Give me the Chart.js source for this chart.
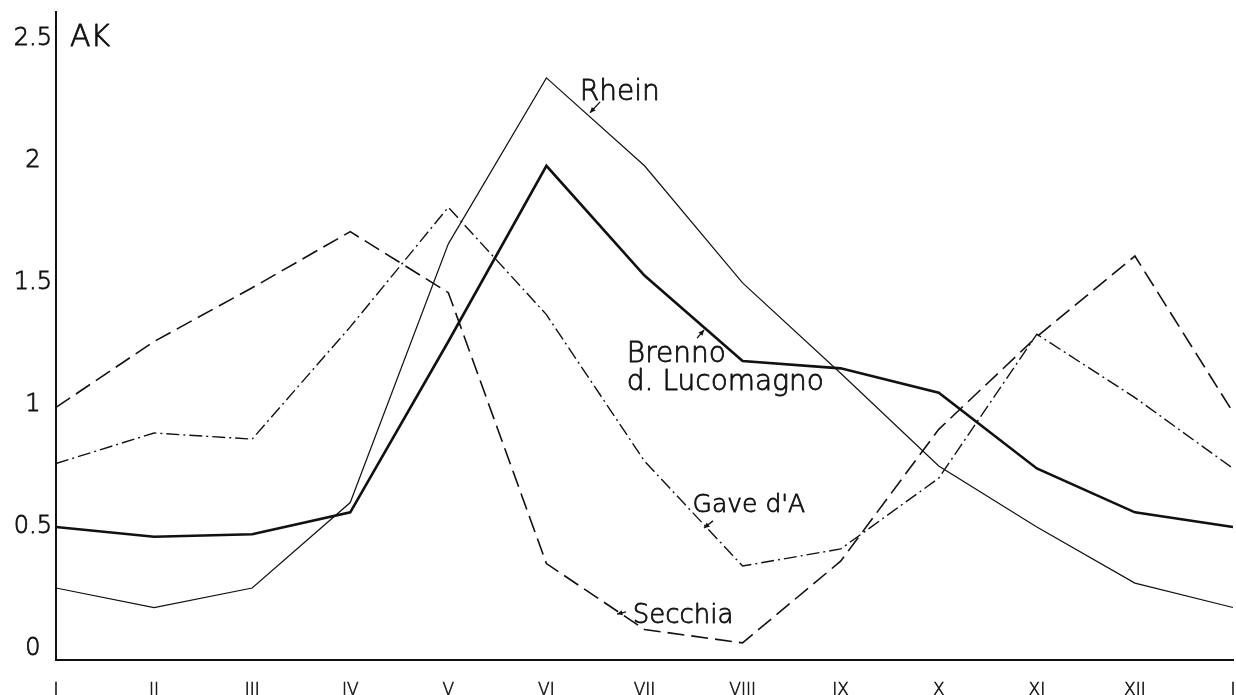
<!DOCTYPE html>
<html>
<head>
<meta charset="utf-8">
<script src="https://cdn.jsdelivr.net/npm/chart.js@4.4.1/dist/chart.umd.min.js"></script>
<style>
  html, body { margin: 0; padding: 0; background: #fff; }
  #wrap { width: 1236px; height: 695px; position: relative; }
</style>
</head>
<body>
<div id="wrap"><canvas id="c" width="1236" height="695"></canvas></div>
<script>
// Monthly runoff coefficients (AK) of four rivers, January to January
const months = ['I', 'II', 'III', 'IV', 'V', 'VI', 'VII', 'VIII', 'IX', 'X', 'XI', 'XII', 'I'];
const rhein   = [0.25, 0.17, 0.25, 0.60, 1.66, 2.34, 1.98, 1.50, 1.13, 0.75, 0.50, 0.27, 0.17];
const brenno  = [0.50, 0.46, 0.47, 0.56, 1.26, 1.98, 1.53, 1.18, 1.15, 1.05, 0.74, 0.56, 0.50];
const gave    = [0.76, 0.885, 0.86, 1.32, 1.81, 1.37, 0.77, 0.34, 0.41, 0.70, 1.29, 1.03, 0.74];
const secchia = [0.99, 1.26, 1.48, 1.71, 1.46, 0.35, 0.08, 0.025, 0.36, 0.90, 1.28, 1.61, 0.97];
const yTicks      = [0, 0.5, 1, 1.5, 2, 2.5];
const yTickLabels = ['0', '0.5', '1', '1.5', '2', '2.5'];

const INK = '#111';
const FONT = "'DejaVu Sans', sans-serif";

// Hand-lettered names next to the curves; anchors in (month index, AK) units
const notes = [
  { text: 'AK',            at: [0.143, 2.47],  size: 30 },
  { text: 'Rhein',         at: [5.34, 2.25],   size: 28, arrow: [[5.547, 2.242], [5.445, 2.197]] },
  { text: 'Brenno',        at: [5.82, 1.176],  size: 28, arrow: [[6.536, 1.274], [6.607, 1.307]] },
  { text: 'd. Lucomagno',  at: [5.82, 1.061],  size: 28 },
  { text: "Gave d'A",      at: [6.49, 0.561],  size: 25, arrow: [[6.698, 0.525], [6.607, 0.496]] },
  { text: 'Secchia',       at: [5.88, 0.107],  size: 26, arrow: [[5.811, 0.152], [5.72, 0.143]] }
];

const notePlugin = {
  id: 'curveNotes',
  afterDraw(chart) {
    const { ctx, scales: { x, y } } = chart;
    const px = (i, v) => [x.left + (x.right - x.left) * i / (months.length - 1), y.getPixelForValue(v)];
    ctx.save();
    ctx.fillStyle = INK;
    ctx.strokeStyle = INK;
    ctx.textBaseline = 'alphabetic';
    ctx.textAlign = 'left';
    notes.forEach(n => {
      ctx.font = `300 ${n.size}px ${FONT}`;
      const [tx, ty] = px(n.at[0], n.at[1]);
      ctx.lineWidth = 0.8;
      ctx.lineJoin = 'round';
      ctx.strokeText(n.text, tx, ty);
      ctx.fillText(n.text, tx, ty);
      if (n.arrow) {
        const [ax, ay] = px(n.arrow[0][0], n.arrow[0][1]);
        const [bx, by] = px(n.arrow[1][0], n.arrow[1][1]);
        ctx.lineWidth = 1.3;
        ctx.beginPath();
        ctx.moveTo(ax, ay);
        ctx.lineTo(bx, by);
        ctx.stroke();
        const ang = Math.atan2(by - ay, bx - ax);
        const L = 6, W = 0.45;
        ctx.beginPath();
        ctx.moveTo(bx, by);
        ctx.lineTo(bx - L * Math.cos(ang - W), by - L * Math.sin(ang - W));
        ctx.lineTo(bx - L * Math.cos(ang + W), by - L * Math.sin(ang + W));
        ctx.closePath();
        ctx.fill();
      }
    });
    ctx.restore();
  }
};

const line = (label, data, width, dash) => ({
  label, data,
  borderColor: INK,
  borderWidth: width,
  borderDash: dash,
  borderCapStyle: 'butt',
  borderJoinStyle: 'miter',
  pointRadius: 0,
  tension: 0,
  fill: false
});

new Chart(document.getElementById('c'), {
  type: 'line',
  data: {
    labels: months,
    datasets: [
      line('Rhein', rhein, 1.2, []),
      line("Gave d'A", gave, 1.4, [13, 4, 2, 4]),
      line('Secchia', secchia, 1.6, [17, 7]),
      line('Brenno d. Lucomagno', brenno, 2.6, [])
    ]
  },
  options: {
    responsive: false,
    animation: false,
    layout: { padding: { top: 12, right: 3, left: 0, bottom: 0 } },
    plugins: { legend: { display: false }, tooltip: { enabled: false } },
    scales: {
      x: {
        type: 'category',
        offset: false,
        grid: { display: false, drawTicks: false },
        border: { display: true, color: INK, width: 2 },
        ticks: {
          color: INK, padding: 20, autoSkip: false, maxRotation: 0,
          textStrokeColor: INK, textStrokeWidth: 0.6,
          font: { family: FONT, size: 17, weight: 300 }
        },
        afterFit(s) { s.height = 35; s.paddingLeft = 0; s.paddingRight = 0; }
      },
      y: {
        type: 'linear',
        min: -0.045,
        max: 2.61,
        grid: { display: false, drawTicks: false },
        border: { display: true, color: INK, width: 2 },
        afterBuildTicks(s) { s.ticks = yTicks.map(v => ({ value: v })); },
        ticks: {
          color: INK, padding: 4, crossAlign: 'center',
          textStrokeColor: INK, textStrokeWidth: 0.8,
          font: { family: FONT, size: 24, weight: 300 },
          callback: v => yTickLabels[yTicks.indexOf(v)]
        },
        afterFit(s) { s.width = 56; s.paddingTop = 0; s.paddingBottom = 0; }
      }
    }
  },
  plugins: [notePlugin]
});
</script>
</body>
</html>
